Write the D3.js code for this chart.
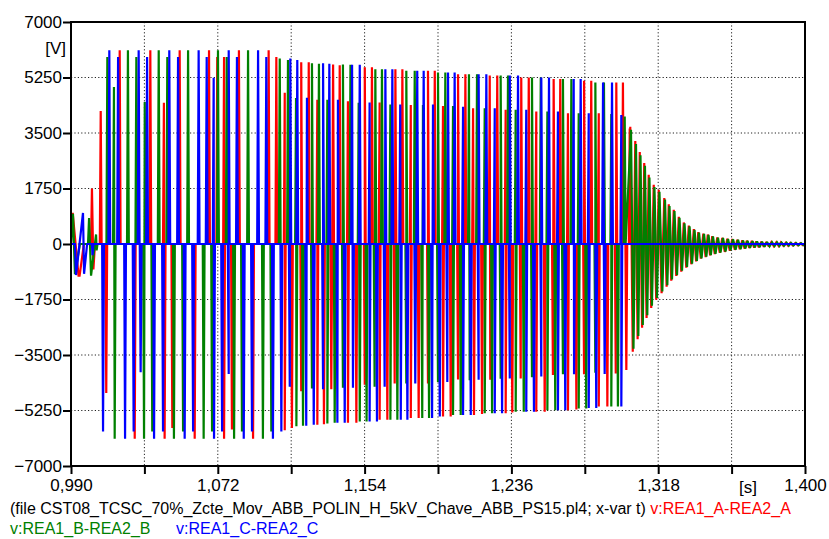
<!DOCTYPE html>
<html><head><meta charset="utf-8">
<script src="https://cdn.jsdelivr.net/npm/d3@7"></script>
<style>body{margin:0;background:#fff}svg{display:block}text{font-family:"Liberation Sans",Arial,sans-serif}</style>
</head><body><svg id="c" width="829" height="539"></svg>
<script>
// ---------- axes / labels ----------
const xTicks = [0.990,1.031,1.072,1.113,1.154,1.195,1.236,1.277,1.318,1.359,1.400];
const xTickLabels = ["0,990","","1,072","","1,154","","1,236","","1,318","","1,400"];
const yTicks = [-7000,-5250,-3500,-1750,0,1750,3500,5250,7000];
const yUnit = "[V]", xUnit = "[s]";
const fileLabel = "(file CST08_TCSC_70%_Zcte_Mov_ABB_POLIN_H_5kV_Chave_ABB_PS15.pl4; x-var t)";
const seriesNames = ["v:REA1_A-REA2_A","v:REA1_B-REA2_B","v:REA1_C-REA2_C"];
const seriesColors = ["#ff0000","#008000","#0000ff"];

// ---------- phase A (red) ----------
const redInitT = [0.9900,0.9903,0.9910,0.9942,0.9948,0.9972,1.0012,1.0017,1.0025,1.0034];
const redInitV = [0,950,950,-1000,-1000,0,0,1750,-800,0];
const redPosT = [1.0066,1.0172,1.0343,1.0419,1.0507,1.0671,1.0717,1.0755,1.0838,1.1004,1.1047,1.1094,1.1186,1.1228,1.1276,1.1364,1.1401,1.1447,1.1541,1.1581,1.1624,1.1712,1.1751,1.1798,1.1894,1.1932,1.1978,1.2062,1.2103,1.2146,1.2239,1.2281,1.2328,1.2415,1.2457,1.2499,1.2596,1.2633,1.2676,1.2766,1.2806,1.2848,1.2946,1.2983,1.3021];
const redPosV = [4190,6110,6110,4450,6110,6110,5900,5900,6110,6110,5900,4770,5730,5730,4550,5660,5640,4500,5570,5570,4460,5510,5510,4380,5460,5460,4350,5355,5355,4280,5310,5310,4230,5250,5250,4180,5200,5200,4120,5145,5145,4120,5090,5090,3640];
const redNegT = [1.0097,1.0256,1.0423,1.0466,1.0591,1.0755,1.0799,1.0917,1.1094,1.1134,1.1186,1.1276,1.1313,1.1354,1.1447,1.1494,1.1541,1.1624,1.1667,1.1708,1.1798,1.1842,1.1894,1.1978,1.2021,1.2062,1.2151,1.2196,1.2242,1.2328,1.2365,1.2412,1.2499,1.2546,1.2592,1.2676,1.2723,1.2766,1.2848,1.2896,1.2943,1.3002];
const redNegV = [-4700,-6140,-6140,-5800,-6140,-6140,-5850,-6140,-5870,-5800,-4640,-5700,-5680,-4580,-5640,-5640,-4440,-5545,-5545,-4400,-5490,-5490,-4400,-5440,-5440,-4270,-5390,-5360,-4280,-5340,-5310,-4240,-5290,-5290,-4130,-5240,-5220,-4110,-5120,-5120,-4080,-3970];
const redTailPeakT = [1.3024,1.3052,1.3077,1.3102,1.3127,1.3155,1.3183,1.3214,1.3239,1.3267,1.3295,1.3323,1.3351,1.3379,1.3404,1.3432,1.3457,1.3482,1.3510,1.3538,1.3566,1.3594,1.3622,1.3650,1.3675,1.3703,1.3728,1.3756,1.3784,1.3812,1.3840,1.3865,1.3893,1.3918,1.3946,1.3974];
const redTailPeakV = [3700,3250,2900,2550,2180,1870,1710,1450,1250,1080,860,680,580,470,375,330,300,250,210,195,165,155,135,115,105,95,85,72,62,57,52,46,41,36,31,26];
const redTailTroughT = [1.3038,1.3065,1.3090,1.3115,1.3141,1.3169,1.3199,1.3227,1.3253,1.3281,1.3309,1.3337,1.3365,1.3392,1.3418,1.3445,1.3470,1.3496,1.3524,1.3552,1.3580,1.3608,1.3636,1.3663,1.3689,1.3716,1.3742,1.3770,1.3798,1.3826,1.3853,1.3879,1.3906,1.3932,1.3960,1.3988];
const redTailTroughV = [-3400,-3000,-2640,-2330,-2020,-1760,-1550,-1350,-1160,-1010,-870,-745,-640,-550,-465,-415,-360,-320,-280,-250,-210,-185,-165,-145,-125,-112,-102,-88,-78,-68,-62,-56,-51,-46,-41,-36];

// ---------- phase B (green) ----------
const greenInitT = [0.9900,0.9911,0.9922,0.9950,0.9995,1.0001,1.0012,1.0040,1.0043,1.0048];
const greenInitV = [0,950,-950,0,0,820,-1000,300,-200,0];
const greenPosT = [1.0103,1.0140,1.0218,1.0265,1.0312,1.0390,1.0438,1.0554,1.0721,1.0770,1.0889,1.1066,1.1112,1.1157,1.1246,1.1285,1.1332,1.1419,1.1461,1.1507,1.1600,1.1637,1.1684,1.1773,1.1820,1.1866,1.1950,1.1991,1.2034,1.2123,1.2168,1.2211,1.2300,1.2341,1.2384,1.2475,1.2524,1.2561,1.2648,1.2695,1.2736,1.2829,1.2877,1.2918,1.2993];
const greenPosV = [5900,4950,6110,5900,4480,6110,5900,6110,6110,5900,6110,5850,5800,4600,5700,5680,4550,5660,5650,4450,5510,5510,4400,5460,5460,4380,5410,5410,4350,5355,5355,4280,5310,5310,4230,5250,5250,4180,5200,5200,4120,5090,5090,4100,4020];
const greenNegT = [1.0144,1.0308,1.0354,1.0475,1.0526,1.0641,1.0688,1.0811,1.0855,1.0972,1.1019,1.1159,1.1196,1.1246,1.1332,1.1373,1.1419,1.1513,1.1551,1.1596,1.1684,1.1723,1.1773,1.1862,1.1900,1.1950,1.2034,1.2077,1.2127,1.2211,1.2252,1.2300,1.2384,1.2429,1.2475,1.2561,1.2605,1.2648,1.2736,1.2778,1.2829,1.2918,1.2955];
const greenNegV = [-6140,-6140,-5910,-6140,-5910,-6140,-5910,-6140,-5910,-6140,-5910,-5750,-5730,-4560,-5660,-5640,-4530,-5600,-5600,-4500,-5545,-5545,-4400,-5490,-5490,-4350,-5390,-5390,-4300,-5340,-5340,-4250,-5290,-5290,-4200,-5240,-5240,-4110,-5190,-5190,-4060,-5120,-5120];
const greenTailPeakT = [1.3028,1.3056,1.3081,1.3106,1.3131,1.3159,1.3187,1.3218,1.3243,1.3271,1.3299,1.3327,1.3355,1.3383,1.3408,1.3436,1.3461,1.3486,1.3514,1.3542,1.3570,1.3598,1.3626,1.3654,1.3679,1.3707,1.3732,1.3760,1.3788,1.3816,1.3844,1.3869,1.3897,1.3922,1.3950,1.3978];
const greenTailPeakV = [3600,3150,2800,2470,2100,1800,1650,1400,1200,1040,830,650,560,450,360,320,290,240,200,190,160,150,130,110,100,90,80,70,60,55,50,45,40,35,30,25];
const greenTailTroughT = [1.3042,1.3069,1.3094,1.3119,1.3145,1.3173,1.3203,1.3231,1.3257,1.3285,1.3313,1.3341,1.3369,1.3396,1.3422,1.3449,1.3474,1.3500,1.3528,1.3556,1.3584,1.3612,1.3640,1.3667,1.3693,1.3720,1.3746,1.3774,1.3802,1.3830,1.3857,1.3883,1.3910,1.3936,1.3964,1.3992];
const greenTailTroughV = [-3300,-2900,-2550,-2250,-1950,-1700,-1500,-1300,-1120,-980,-840,-720,-620,-530,-450,-400,-350,-310,-270,-240,-200,-180,-160,-140,-120,-110,-100,-85,-75,-65,-60,-55,-50,-45,-40,-35];

// ---------- phase C (blue) ----------
const blueInitT = [0.9900,0.9922,0.9928,0.9967,0.9973,0.9990,1.0017,1.0020,1.0026];
const blueInitV = [0,0,-980,980,-940,0,0,-350,0];
const bluePosT = [1.0114,1.0163,1.0278,1.0325,1.0449,1.0498,1.0613,1.0658,1.0697,1.0781,1.0827,1.0945,1.0991,1.1125,1.1164,1.1218,1.1308,1.1343,1.1391,1.1470,1.1513,1.1568,1.1656,1.1695,1.1739,1.1834,1.1870,1.1922,1.2006,1.2043,1.2090,1.2177,1.2220,1.2267,1.2351,1.2397,1.2443,1.2527,1.2570,1.2620,1.2708,1.2747,1.2792,1.2872,1.2922,1.2974];
const bluePosV = [6110,5900,6110,5900,6110,5900,6110,5900,5240,6110,5900,6110,5900,5850,5800,4610,5700,5680,4550,5650,5650,4460,5510,5510,4400,5460,5460,4400,5410,5410,4330,5355,5355,4280,5310,5310,4230,5250,5250,4180,5200,5200,4120,5090,5090,4070];
const blueNegT = [1.0079,1.0202,1.0250,1.0289,1.0364,1.0414,1.0535,1.0582,1.0699,1.0744,1.0781,1.0865,1.0911,1.1028,1.1075,1.1122,1.1214,1.1256,1.1308,1.1388,1.1429,1.1475,1.1568,1.1609,1.1652,1.1742,1.1779,1.1823,1.1917,1.1960,1.2002,1.2090,1.2133,1.2177,1.2267,1.2308,1.2351,1.2443,1.2486,1.2527,1.2620,1.2661,1.2710,1.2792,1.2834,1.2881,1.2974];
const blueNegV = [-5910,-6140,-5910,-4040,-6140,-5910,-6140,-5910,-6140,-5910,-4100,-6140,-5910,-6140,-5910,-4500,-5730,-5700,-4580,-5640,-5640,-4530,-5600,-5600,-4500,-5545,-5545,-4400,-5490,-5440,-4350,-5390,-5390,-4280,-5340,-5340,-4240,-5290,-5290,-4180,-5240,-5240,-4110,-5170,-5170,-4100,-5120];
const blueTailT = [], blueTailV = [];

// ---------- build ----------
const M = {left:71, right:805, top:22, bottom:466};
const x = d3.scaleLinear().domain([0.990,1.400]).range([M.left,M.right]);
const y = d3.scaleLinear().domain([-7000,7000]).range([M.bottom,M.top]);
const svg = d3.select("#c");

function zip(T,V){return T.map((t,i)=>[t,V[i]]);}
function buildSeries(initT,initV,posT,posV,negT,negV,tailPts){
  const pts = zip(initT,initV);
  const peaks = zip(posT,posV).concat(zip(negT,negV));
  peaks.sort((a,b)=>(a[0]-b[0])||(Math.abs(a[1])-Math.abs(b[1])));
  const w = 0.0005, join = 0.0006;
  let prev = null;
  peaks.forEach(p=>{
    if(prev && p[0]-prev[0] <= join && Math.sign(p[1])!==Math.sign(prev[1])){
      pts.push(p);
    } else {
      if(prev) pts.push([prev[0]+w,0]);
      pts.push([p[0]-w,0]);
      pts.push(p);
    }
    prev = p;
  });
  if(prev) pts.push([prev[0]+w,0]);
  tailPts.forEach(p=>pts.push(p));
  pts.push([1.400,0]);
  return pts;
}
function tail(pT,pV,tT,tV){
  return zip(pT,pV).concat(zip(tT,tV)).sort((a,b)=>a[0]-b[0]);
}
const series = [
  buildSeries(redInitT,redInitV,redPosT,redPosV,redNegT,redNegV,tail(redTailPeakT,redTailPeakV,redTailTroughT,redTailTroughV)),
  buildSeries(greenInitT,greenInitV,greenPosT,greenPosV,greenNegT,greenNegV,tail(greenTailPeakT,greenTailPeakV,greenTailTroughT,greenTailTroughV)),
  buildSeries(blueInitT,blueInitV,bluePosT,bluePosV,blueNegT,blueNegV,zip(blueTailT,blueTailV))
];

// grid
const grid = svg.append("g").attr("stroke","#222").attr("stroke-width",1).attr("stroke-dasharray","1.2,2.2");
xTicks.slice(1,-1).forEach(t=>grid.append("line").attr("x1",x(t)).attr("x2",x(t)).attr("y1",M.top).attr("y2",M.bottom));
yTicks.slice(1,-1).forEach(v=>grid.append("line").attr("x1",M.left).attr("x2",M.right).attr("y1",y(v)).attr("y2",y(v)));

// clip
svg.append("clipPath").attr("id","clip").append("rect")
  .attr("x",M.left).attr("y",M.top).attr("width",M.right-M.left).attr("height",M.bottom-M.top);

const line = d3.line().x(d=>x(d[0])).y(d=>y(d[1]));
const lines = svg.append("g").attr("clip-path","url(#clip)");
series.forEach((s,i)=>{
  lines.append("path").attr("d",line(s)).attr("fill","none")
    .attr("stroke",seriesColors[i]).attr("stroke-width",2.2).attr("stroke-linejoin","miter").attr("stroke-miterlimit",2);
});

// axes
const xAxis = d3.axisBottom(x).tickValues(xTicks).tickSize(8).tickFormat((d,i)=>xTickLabels[i]);
const yAxis = d3.axisLeft(y).tickValues(yTicks).tickSize(8).tickFormat(d3.format("d"));
const gx = svg.append("g").attr("transform",`translate(0,${M.bottom})`).call(xAxis);
const gy = svg.append("g").attr("transform",`translate(${M.left},0)`).call(yAxis);
[gx,gy].forEach(g=>{
  g.select(".domain").remove();
  g.selectAll(".tick line").attr("stroke","#000").attr("stroke-width",2);
  g.selectAll(".tick text").attr("font-size",17).attr("fill","#000").attr("font-family","Liberation Sans, Arial, sans-serif");
});
gy.selectAll(".tick text").attr("x",-9);
gx.selectAll(".tick text").attr("y",13);

// frame
svg.append("rect").attr("x",M.left).attr("y",M.top).attr("width",M.right-M.left).attr("height",M.bottom-M.top)
  .attr("fill","none").attr("stroke","#000").attr("stroke-width",2);

svg.append("text").attr("x",66).attr("y",54).attr("text-anchor","end").attr("font-size",17).text(yUnit);
svg.append("text").attr("x",748).attr("y",493).attr("text-anchor","middle").attr("font-size",17).text(xUnit);

// legend
const l1 = svg.append("text").attr("x",10).attr("y",514).attr("font-size",16);
l1.append("tspan").attr("fill","#000").text(fileLabel);
l1.append("tspan").attr("fill",seriesColors[0]).text(" " + seriesNames[0]);
const l2 = svg.append("text").attr("x",10).attr("y",534).attr("font-size",16);
l2.append("tspan").attr("fill",seriesColors[1]).text(seriesNames[1]);
l2.append("tspan").attr("fill",seriesColors[2]).attr("x",176).text(seriesNames[2]);
</script></body></html>
